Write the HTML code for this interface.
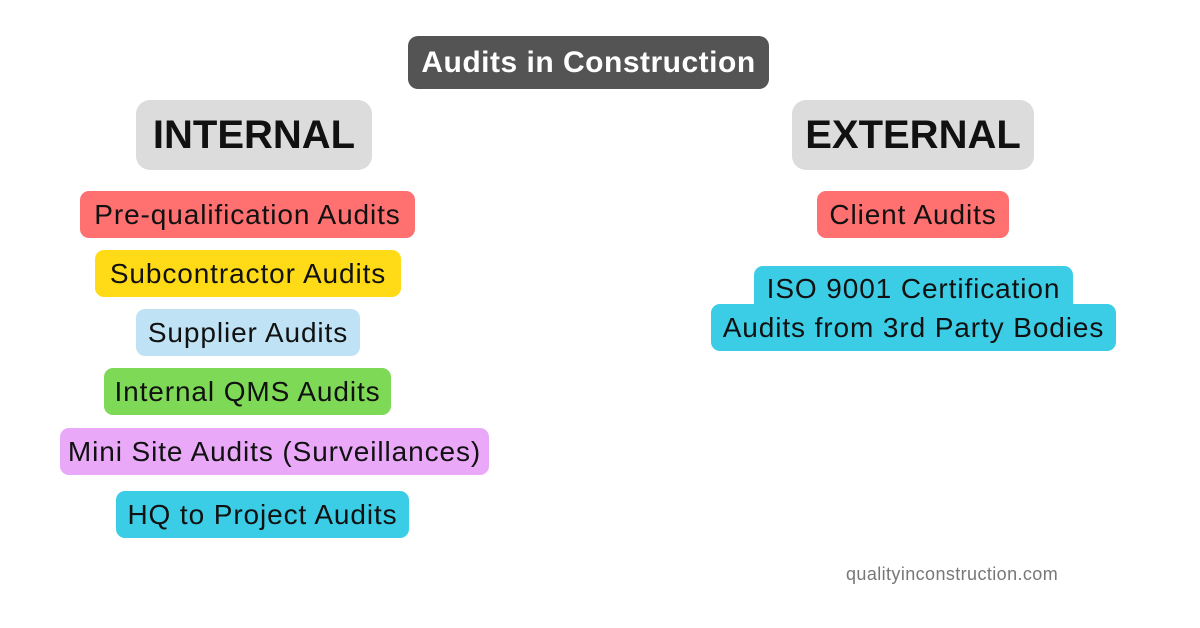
<!DOCTYPE html>
<html><head><meta charset="utf-8"><style>
body{margin:0;width:1200px;height:628px;background:#fff;position:relative;overflow:hidden;font-family:"Liberation Sans",sans-serif}
.b{position:absolute;display:flex;align-items:center;justify-content:center;color:#111;font-size:28px;letter-spacing:0.9px;border-radius:9px;white-space:nowrap}
</style></head><body>
<div class="b" style="left:408px;top:36px;width:361px;height:53px;background:#545454;color:#fff;font-weight:bold;font-size:30px;letter-spacing:0.5px;border-radius:10px">Audits in Construction</div>
<div class="b" style="left:136px;top:100px;width:236px;height:70px;background:#dcdcdc;font-weight:bold;font-size:40px;letter-spacing:0;border-radius:14px">INTERNAL</div>
<div class="b" style="left:792px;top:100px;width:242px;height:70px;background:#dcdcdc;font-weight:bold;font-size:40px;letter-spacing:0;border-radius:14px">EXTERNAL</div>
<div class="b" style="left:80px;top:191px;width:335px;height:47px;background:#ff7070">Pre-qualification Audits</div>
<div class="b" style="left:95px;top:250px;width:306px;height:47px;background:#ffdb17">Subcontractor Audits</div>
<div class="b" style="left:136px;top:309px;width:224px;height:47px;background:#bfe3f4">Supplier Audits</div>
<div class="b" style="left:104px;top:368px;width:287px;height:47px;background:#7ed957">Internal QMS Audits</div>
<div class="b" style="left:60px;top:428px;width:429px;height:47px;background:#e9a9f8">Mini Site Audits (Surveillances)</div>
<div class="b" style="left:116px;top:491px;width:293px;height:47px;background:#3ccde6">HQ to Project Audits</div>
<div class="b" style="left:817px;top:191px;width:192px;height:47px;background:#ff7070">Client Audits</div>
<div class="b" style="left:754px;top:266px;width:319px;height:44px;background:#3ccde6;border-radius:9px 9px 0 0;align-items:flex-start;padding-top:7px;box-sizing:border-box">ISO 9001 Certification</div>
<div class="b" style="left:711px;top:304px;width:405px;height:47px;background:#3ccde6">Audits from 3rd Party Bodies</div>
<div style="position:absolute;left:846px;top:564px;font-size:18px;letter-spacing:0.4px;color:#777">qualityinconstruction.com</div>
</body></html>
